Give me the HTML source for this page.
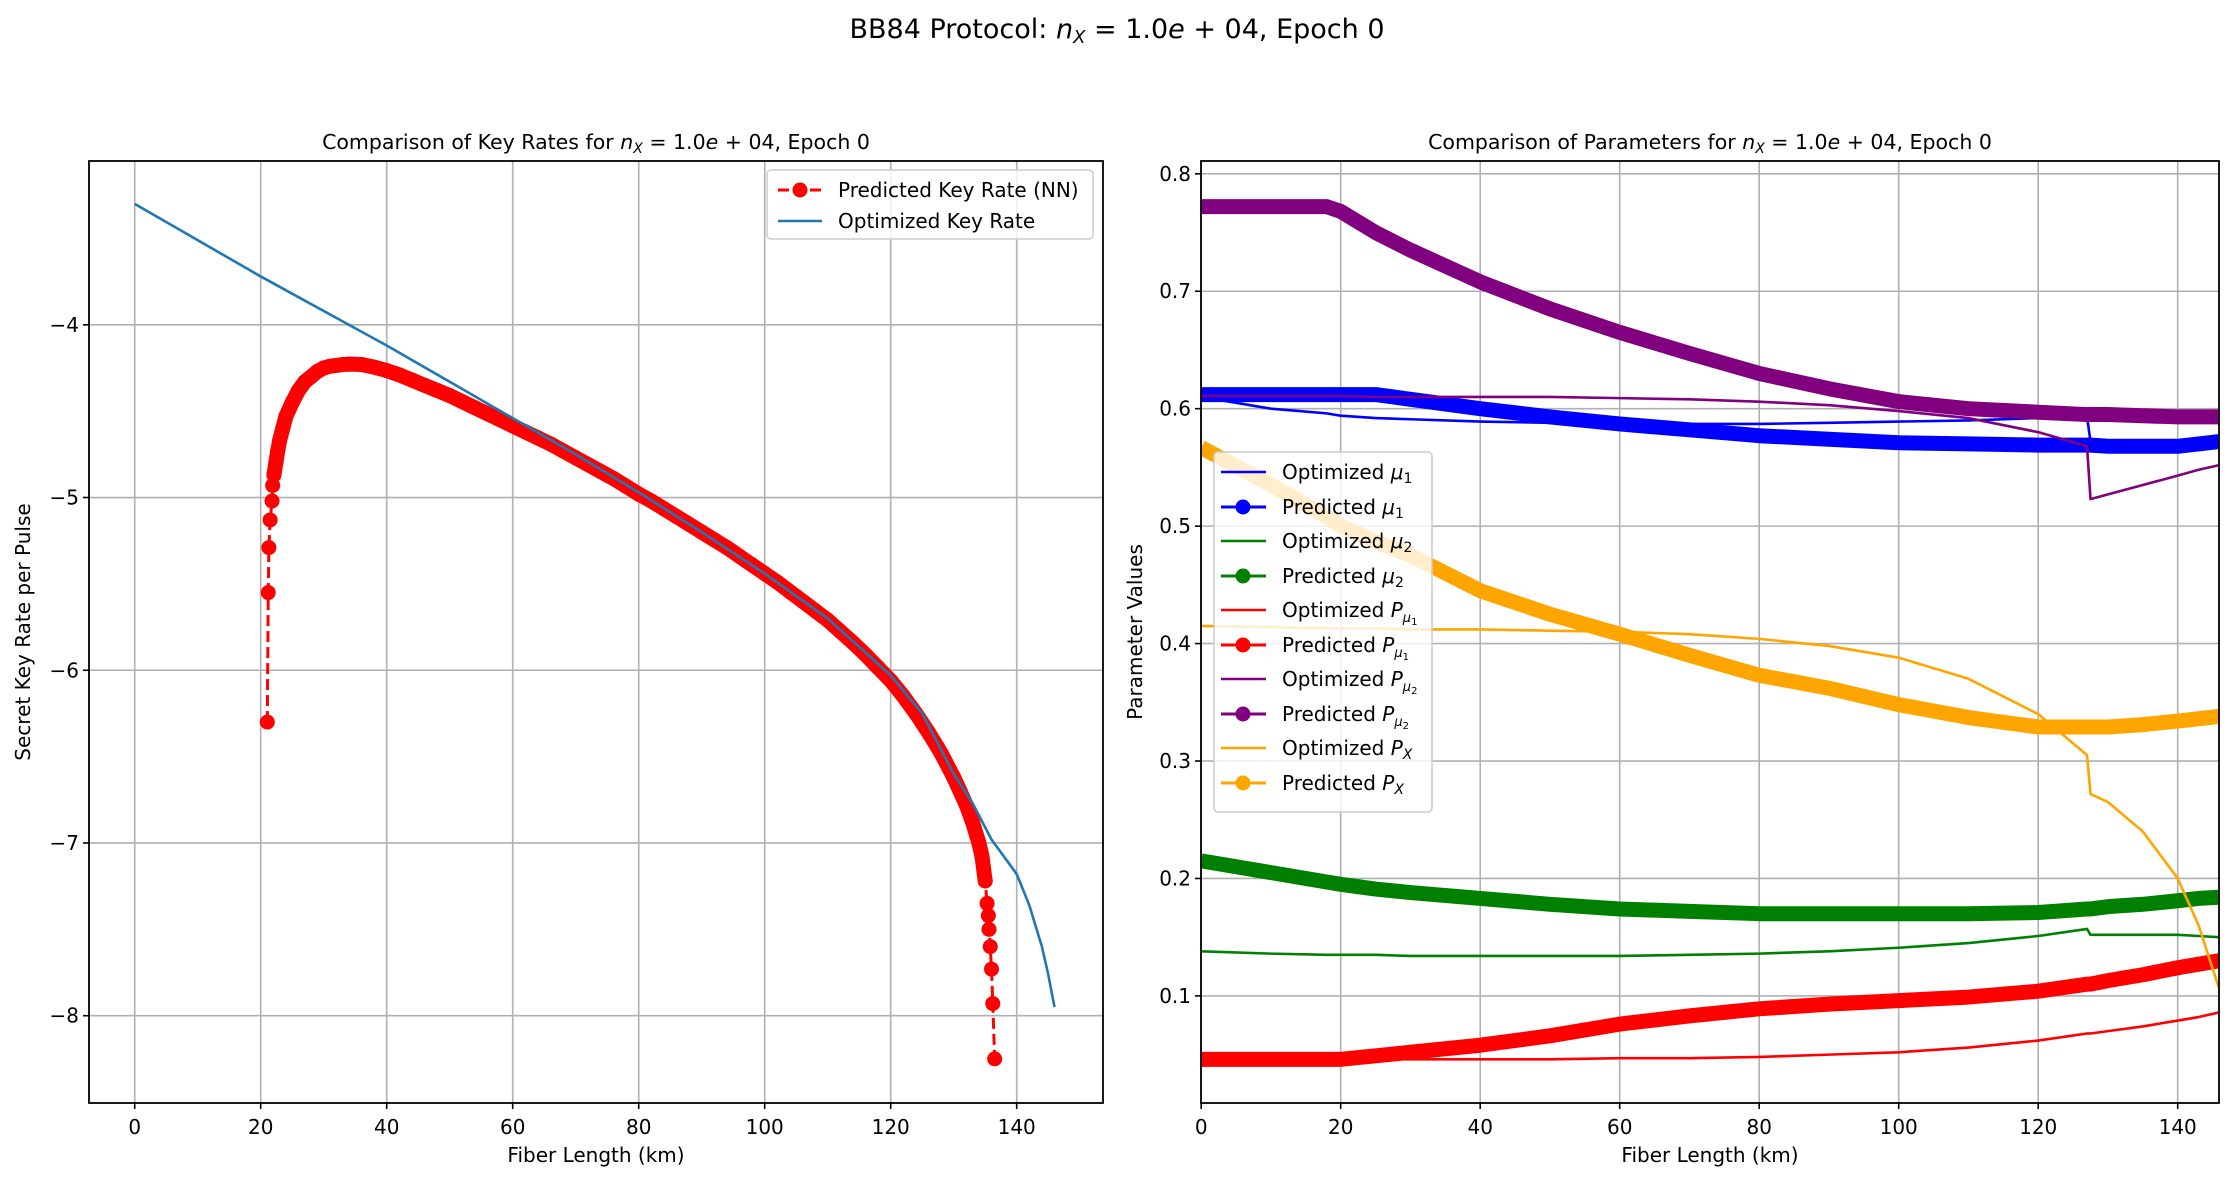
<!DOCTYPE html>
<html><head><meta charset="utf-8"><style>
html,body{margin:0;padding:0;background:#fff;}
svg{display:block;font-family:"DejaVu Sans","Liberation Sans",sans-serif;}
</style></head><body>
<svg id="fig" width="2234" height="1181" viewBox="0 0 2234 1181" xmlns="http://www.w3.org/2000/svg">
<rect x="0" y="0" width="2234" height="1181" fill="#fff"/>
<text x="1117" y="38" font-size="27" text-anchor="middle">BB84 Protocol: <tspan font-style="italic">n</tspan><tspan font-style="italic" font-size="18" dy="5">X</tspan><tspan dy="-5"> = 1.0</tspan><tspan font-style="italic">e</tspan> + 04, Epoch 0</text>
<defs>
<clipPath id="clipL"><rect x="89" y="161" width="1014" height="942"/></clipPath>
<clipPath id="clipR"><rect x="1201" y="161" width="1018" height="942"/></clipPath>
</defs>
<g id="left"></g>
<g id="right"></g>
</svg>
<script>
// ---- Left chart data ----
const krOptX = [0,20,40,50,60,70,80,90,100,110,120,125,130,133,136,138,140,142,143,144,145,146];
const krOptY = [-3.3,-3.72,-4.12,-4.33,-4.54,-4.75,-4.97,-5.2,-5.44,-5.7,-6.03,-6.25,-6.6,-6.77,-6.98,-7.08,-7.18,-7.36,-7.48,-7.6,-7.76,-7.95];
const krPredX = [21.05,21.2,21.3,21.5,21.8,21.9,22.1,22.4,22.7,23,23.5,24,25,26,27,28,29,30,31,32,33,34,36,38,40,42,44,46,48,50,52,54,56,58,60,62,64,66,68,70,72,74,76,78,80,82,84,86,88,90,92,94,96,98,100,102,104,106,108,110,112,114,116,118,120,122,124,126,128,130,131,132,133,134,134.5,135,135.3,135.5,135.6,135.8,136.0,136.2,136.5];
const krPredY = [-6.3,-5.55,-5.29,-5.13,-5.02,-4.93,-4.87,-4.8,-4.73,-4.67,-4.6,-4.53,-4.45,-4.38,-4.33,-4.3,-4.27,-4.25,-4.24,-4.235,-4.23,-4.228,-4.23,-4.245,-4.265,-4.29,-4.32,-4.35,-4.38,-4.41,-4.445,-4.48,-4.515,-4.55,-4.585,-4.62,-4.655,-4.69,-4.73,-4.77,-4.81,-4.85,-4.89,-4.935,-4.98,-5.02,-5.065,-5.11,-5.155,-5.2,-5.245,-5.29,-5.34,-5.39,-5.44,-5.49,-5.545,-5.6,-5.655,-5.71,-5.775,-5.84,-5.91,-5.985,-6.06,-6.15,-6.25,-6.36,-6.48,-6.62,-6.7,-6.78,-6.88,-7.0,-7.08,-7.22,-7.35,-7.42,-7.5,-7.6,-7.73,-7.93,-8.25];
const leftXTicks = [0,20,40,60,80,100,120,140];
const leftYTicks = [-4,-5,-6,-7,-8];

// ---- Right chart data ----
const pX = [0,10,18,20,25,30,40,50,60,70,80,90,100,110,120,127,127.5,130,135,140,143,146];
const optMu1 = [0.61,0.600,0.596,0.594,0.592,0.591,0.589,0.588,0.587,0.587,0.587,0.588,0.589,0.590,0.592,0.593,0.572,0.570,0.569,0.569,0.570,0.571];
const predMu1 = [0.612,0.612,0.612,0.612,0.612,0.608,0.600,0.593,0.587,0.582,0.577,0.574,0.571,0.570,0.569,0.569,0.569,0.568,0.568,0.568,0.570,0.572];
const optMu2 = [0.138,0.136,0.135,0.135,0.135,0.134,0.134,0.134,0.134,0.135,0.136,0.138,0.141,0.145,0.151,0.157,0.152,0.152,0.152,0.152,0.151,0.150];
const predMu2 = [0.215,0.205,0.197,0.195,0.191,0.188,0.183,0.178,0.174,0.172,0.170,0.170,0.170,0.170,0.171,0.174,0.174,0.176,0.178,0.181,0.183,0.184];
const optPmu1 = [0.046,0.046,0.046,0.046,0.046,0.046,0.046,0.046,0.047,0.047,0.048,0.050,0.052,0.056,0.062,0.068,0.068,0.070,0.074,0.079,0.082,0.086];
const predPmu1 = [0.046,0.046,0.046,0.046,0.049,0.052,0.058,0.066,0.076,0.083,0.089,0.093,0.096,0.099,0.104,0.110,0.110,0.113,0.118,0.124,0.127,0.130];
const optPmu2 = [0.611,0.611,0.611,0.611,0.610,0.610,0.610,0.610,0.609,0.608,0.606,0.603,0.598,0.592,0.580,0.568,0.523,0.527,0.535,0.543,0.548,0.552];
const predPmu2 = [0.772,0.772,0.772,0.768,0.750,0.735,0.708,0.685,0.665,0.647,0.630,0.617,0.606,0.600,0.597,0.595,0.595,0.595,0.594,0.593,0.593,0.593];
const optPX = [0.415,0.414,0.413,0.413,0.413,0.412,0.412,0.411,0.410,0.408,0.404,0.398,0.388,0.370,0.340,0.305,0.272,0.265,0.240,0.200,0.160,0.105];
const predPX = [0.567,0.535,0.508,0.500,0.487,0.475,0.445,0.425,0.408,0.390,0.373,0.362,0.348,0.337,0.329,0.329,0.329,0.329,0.331,0.334,0.336,0.338];
const rightYTicks = [0.1,0.2,0.3,0.4,0.5,0.6,0.7,0.8];
const rightXTicks = [0,20,40,60,80,100,120,140];

const NS = "http://www.w3.org/2000/svg";
function mk(tag, attrs, parent){const e=document.createElementNS(NS,tag);for(const k in attrs)e.setAttribute(k,attrs[k]);parent.appendChild(e);return e;}
function lin(d0,d1,p0,p1){return v=>p0+(v-d0)*(p1-p0)/(d1-d0);}

// ===== LEFT =====
const L = document.getElementById('left');
const lx = lin(0,20,134.7,260.7);
const ly = lin(-4,-8,324.8,1015.7);
const LB = {x0:89,x1:1103,y0:161,y1:1103};
leftYTicks.forEach(t=>{
  const g = mk('line',{x1:LB.x0,x2:LB.x1,y1:ly(t),y2:ly(t),stroke:'#b0b0b0','stroke-width':1.6},L);
  
  
  mk('line',{x1:LB.x0-6,x2:LB.x0,y1:ly(t),y2:ly(t),stroke:'#000','stroke-width':1.6},L);
  const tx = mk('text',{x:LB.x0-10,y:ly(t)+7,'font-size':20,'text-anchor':'end'},L);
  tx.textContent = '\u2212'+Math.abs(t);
  
  
});
leftXTicks.forEach(t=>{
  const g = mk('line',{x1:lx(t),x2:lx(t),y1:LB.y0,y2:LB.y1,stroke:'#b0b0b0','stroke-width':1.6},L);
  
  
  mk('line',{x1:lx(t),x2:lx(t),y1:LB.y1,y2:LB.y1+6,stroke:'#000','stroke-width':1.6},L);
  const tx = mk('text',{x:lx(t),y:LB.y1+31,'font-size':20,'text-anchor':'middle'},L);
  tx.textContent = t;
  
  
});
const lg = mk('g',{'clip-path':'url(#clipL)'},L);
const pl = mk('polyline',{points:krPredX.map((x,i)=>lx(x)+','+ly(krPredY[i])).join(' '),fill:'none',stroke:'#ff0000','stroke-width':3,'stroke-dasharray':'11,5'},lg);


// dense marker band (markers overlap into a continuous band in the dense sampling region)
const denseIdx = krPredX.map((x,i)=>i).filter(i=>krPredX[i]>=22.1 && krPredX[i]<=135);
const band = mk('polyline',{points:denseIdx.map(i=>lx(krPredX[i])+','+ly(krPredY[i])).join(' '),fill:'none',stroke:'#ff0000','stroke-width':15,'stroke-linejoin':'round','stroke-linecap':'round'},lg);


krPredX.forEach((x,i)=>{
  const c = mk('circle',{cx:lx(x),cy:ly(krPredY[i]),r:7.5,fill:'#ff0000'},lg);
  
  
});
const opt2 = mk('polyline',{points:krOptX.map((x,i)=>lx(x)+','+ly(krOptY[i])).join(' '),fill:'none',stroke:'#1f77b4','stroke-width':2.6},lg);


mk('rect',{x:LB.x0,y:LB.y0,width:LB.x1-LB.x0,height:LB.y1-LB.y0,fill:'none',stroke:'#000','stroke-width':1.8},L);
// legend
const leg = mk('g',{},L);


mk('rect',{x:767,y:170,width:326,height:69,rx:4,fill:'#fff','fill-opacity':0.8,stroke:'#ccc','stroke-width':1.5},leg);
mk('line',{x1:778,x2:822,y1:190,y2:190,stroke:'#ff0000','stroke-width':3,'stroke-dasharray':'11,5'},leg);
mk('circle',{cx:800,cy:190,r:7.5,fill:'#ff0000'},leg);
const lt1 = mk('text',{x:838,y:197,'font-size':20},leg); lt1.textContent='Predicted Key Rate (NN)';


mk('line',{x1:778,x2:822,y1:221,y2:221,stroke:'#1f77b4','stroke-width':2.6},leg);
const lt2 = mk('text',{x:838,y:228,'font-size':20},leg); lt2.textContent='Optimized Key Rate';



// ===== RIGHT =====
const R = document.getElementById('right');
const rx = lin(100,140,1898.7,2177.7);
const ry = lin(0.1,0.8,995.9,173.8);
const RB = {x0:1201,x1:2219,y0:161,y1:1103};
rightYTicks.forEach(t=>{
  const g = mk('line',{x1:RB.x0,x2:RB.x1,y1:ry(t),y2:ry(t),stroke:'#b0b0b0','stroke-width':1.6},R);
  
  
  mk('line',{x1:RB.x0-6,x2:RB.x0,y1:ry(t),y2:ry(t),stroke:'#000','stroke-width':1.6},R);
  const tx = mk('text',{x:RB.x0-10,y:ry(t)+7,'font-size':20,'text-anchor':'end'},R);
  tx.textContent = t.toFixed(1);
  
  
});
rightXTicks.forEach(t=>{
  const g = mk('line',{x1:rx(t),x2:rx(t),y1:RB.y0,y2:RB.y1,stroke:'#b0b0b0','stroke-width':1.6},R);
  
  
  mk('line',{x1:rx(t),x2:rx(t),y1:RB.y1,y2:RB.y1+6,stroke:'#000','stroke-width':1.6},R);
  const tx = mk('text',{x:rx(t),y:RB.y1+31,'font-size':20,'text-anchor':'middle'},R);
  tx.textContent = t;
  
  
});
const rg = mk('g',{'clip-path':'url(#clipR)'},R);
const series = [
  [optMu1,'#0000ff',2.6,'optimized-mu1-line'],
  [predMu1,'#0000ff',15,'predicted-mu1-line'],
  [optMu2,'#008000',2.6,'optimized-mu2-line'],
  [predMu2,'#008000',15,'predicted-mu2-line'],
  [optPmu1,'#ff0000',2.6,'optimized-p-mu1-line'],
  [predPmu1,'#ff0000',15,'predicted-p-mu1-line'],
  [optPmu2,'#800080',2.6,'optimized-p-mu2-line'],
  [predPmu2,'#800080',15,'predicted-p-mu2-line'],
  [optPX,'#ffa500',2.6,'optimized-px-line'],
  [predPX,'#ffa500',15,'predicted-px-line']
];
series.forEach(s=>{
  const p = mk('polyline',{points:pX.map((x,i)=>rx(x)+','+ry(s[0][i])).join(' '),fill:'none',stroke:s[1],'stroke-width':s[2],'stroke-linejoin':'round'},rg);
  
  
});
mk('rect',{x:RB.x0,y:RB.y0,width:RB.x1-RB.x0,height:RB.y1-RB.y0,fill:'none',stroke:'#000','stroke-width':1.8},R);
</script>
<script>
(function(){
const svg=document.getElementById('fig');
svg.insertAdjacentHTML('beforeend',`
<text x="596" y="149" font-size="20.5" text-anchor="middle">Comparison of Key Rates for <tspan font-style="italic">n</tspan><tspan font-style="italic" font-size="14" dy="4">X</tspan><tspan dy="-4"> = 1.0</tspan><tspan font-style="italic">e</tspan> + 04, Epoch 0</text>
<text x="1710" y="149" font-size="20.5" text-anchor="middle">Comparison of Parameters for <tspan font-style="italic">n</tspan><tspan font-style="italic" font-size="14" dy="4">X</tspan><tspan dy="-4"> = 1.0</tspan><tspan font-style="italic">e</tspan> + 04, Epoch 0</text>
<text x="596" y="1162" font-size="20" text-anchor="middle">Fiber Length (km)</text>
<text x="1710" y="1162" font-size="20" text-anchor="middle">Fiber Length (km)</text>
<text transform="translate(30,632) rotate(-90)" font-size="20" text-anchor="middle">Secret Key Rate per Pulse</text>
<text transform="translate(1142,632) rotate(-90)" font-size="20" text-anchor="middle">Parameter Values</text>
<g>
<rect x="1214" y="452" width="218" height="360" rx="4" fill="#fff" fill-opacity="0.8" stroke="#ccc" stroke-width="1.5"/>
<line x1="1221" x2="1266" y1="472" y2="472" stroke="#0000ff" stroke-width="2.6"/>
<text x="1282" y="479" font-size="20">Optimized <tspan font-style="italic">μ</tspan><tspan font-size="14" dy="4">1</tspan></text>
<line x1="1221" x2="1266" y1="507" y2="507" stroke="#0000ff" stroke-width="3"/><circle cx="1243" cy="507" r="7.5" fill="#0000ff"/>
<text x="1282" y="514" font-size="20">Predicted <tspan font-style="italic">μ</tspan><tspan font-size="14" dy="4">1</tspan></text>
<line x1="1221" x2="1266" y1="541" y2="541" stroke="#008000" stroke-width="2.6"/>
<text x="1282" y="548" font-size="20">Optimized <tspan font-style="italic">μ</tspan><tspan font-size="14" dy="4">2</tspan></text>
<line x1="1221" x2="1266" y1="576" y2="576" stroke="#008000" stroke-width="3"/><circle cx="1243" cy="576" r="7.5" fill="#008000"/>
<text x="1282" y="583" font-size="20">Predicted <tspan font-style="italic">μ</tspan><tspan font-size="14" dy="4">2</tspan></text>
<line x1="1221" x2="1266" y1="610" y2="610" stroke="#ff0000" stroke-width="2.6"/>
<text x="1282" y="617" font-size="20">Optimized <tspan font-style="italic">P</tspan><tspan font-style="italic" font-size="13" dy="5">μ</tspan><tspan font-size="10" dy="3">1</tspan></text>
<line x1="1221" x2="1266" y1="645" y2="645" stroke="#ff0000" stroke-width="3"/><circle cx="1243" cy="645" r="7.5" fill="#ff0000"/>
<text x="1282" y="652" font-size="20">Predicted <tspan font-style="italic">P</tspan><tspan font-style="italic" font-size="13" dy="5">μ</tspan><tspan font-size="10" dy="3">1</tspan></text>
<line x1="1221" x2="1266" y1="679" y2="679" stroke="#800080" stroke-width="2.6"/>
<text x="1282" y="686" font-size="20">Optimized <tspan font-style="italic">P</tspan><tspan font-style="italic" font-size="13" dy="5">μ</tspan><tspan font-size="10" dy="3">2</tspan></text>
<line x1="1221" x2="1266" y1="714" y2="714" stroke="#800080" stroke-width="3"/><circle cx="1243" cy="714" r="7.5" fill="#800080"/>
<text x="1282" y="721" font-size="20">Predicted <tspan font-style="italic">P</tspan><tspan font-style="italic" font-size="13" dy="5">μ</tspan><tspan font-size="10" dy="3">2</tspan></text>
<line x1="1221" x2="1266" y1="748" y2="748" stroke="#ffa500" stroke-width="2.6"/>
<text x="1282" y="755" font-size="20">Optimized <tspan font-style="italic">P</tspan><tspan font-style="italic" font-size="14" dy="4">X</tspan></text>
<line x1="1221" x2="1266" y1="783" y2="783" stroke="#ffa500" stroke-width="3"/><circle cx="1243" cy="783" r="7.5" fill="#ffa500"/>
<text x="1282" y="790" font-size="20">Predicted <tspan font-style="italic">P</tspan><tspan font-style="italic" font-size="14" dy="4">X</tspan></text>
</g>`);
})();
</script>
</body></html>
